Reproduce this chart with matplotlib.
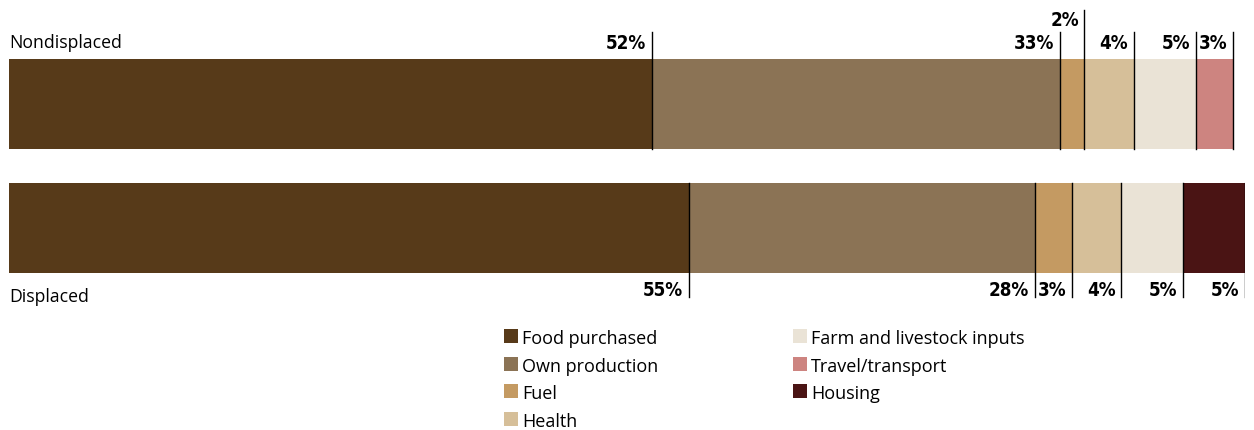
import matplotlib
matplotlib.use("Agg")
import matplotlib.pyplot as plt
from matplotlib.patches import Rectangle

groups = ["Nondisplaced", "Displaced"]
categories = ["Food purchased", "Own production", "Fuel", "Health",
              "Farm and livestock inputs", "Travel/transport", "Housing"]
colors = ["#573a19", "#8b7355", "#c49a62", "#d6bf99",
          "#eae3d6", "#cd8480", "#4a1414"]
nondisplaced = [52, 33, 2, 4, 5, 3, 0]
displaced = [55, 28, 3, 4, 5, 0, 5]

plt.rcParams["font.family"] = ["Open Sans", "DejaVu Sans"]

W, H = 1254, 431
fig = plt.figure(figsize=(W / 100, H / 100), dpi=100)

# bars: percent across, pixel rows down
ax = fig.add_axes([9 / W, 0, 1236 / W, 1])
ax.set_xlim(0, 100)
ax.set_ylim(H, 0)
ax.axis("off")

# overlay in plain pixels for the legend and row names
ov = fig.add_axes([0, 0, 1, 1])
ov.set_xlim(0, W)
ov.set_ylim(H, 0)
ov.axis("off")

bar_top = {"Nondisplaced": 60, "Displaced": 184}
bar_h = 90
pct_font = dict(fontsize=13.5, fontweight="bold", fontstretch="condensed",
                family=["DejaVu Sans"])

for g, vals in zip(groups, [nondisplaced, displaced]):
    top = bar_top[g]
    left = 0
    for i, v in enumerate(vals):
        if v == 0:
            continue
        ax.barh(top + bar_h / 2, v, left=left, height=bar_h,
                color=colors[i], edgecolor="none")
        right = left + v
        if g == "Nondisplaced":
            # narrow segment gets its label lifted above the rest
            y_line, y_txt = (11, 26) if v <= 2 else (33, 49)
            ax.plot([right, right], [y_line, top + bar_h], color="black", lw=1.0)
        else:
            y_txt = 296
            ax.plot([right, right], [top, 298], color="black", lw=1.0)
        ax.annotate(f"{v}%", (right, y_txt), xytext=(-4, 0),
                    textcoords="offset points", ha="right", va="baseline",
                    **pct_font)
        left = right

ov.text(9, 48, "Nondisplaced", fontsize=12.7, va="baseline")
ov.text(9, 302, "Displaced", fontsize=12.7, va="baseline")

# legend: two columns of swatches
col_x = [504, 793]
row_y = [330, 357.7, 385.3, 413]
for k, (name, c) in enumerate(zip(categories, colors)):
    col, row = (0, k) if k < 4 else (1, k - 4)
    x, y = col_x[col], row_y[row]
    ov.add_patch(Rectangle((x, y), 14, 14, facecolor=c, edgecolor="none"))
    ov.text(x + 18, y + 14, name, fontsize=13, va="baseline")

fig.savefig("out.png", dpi=100)
